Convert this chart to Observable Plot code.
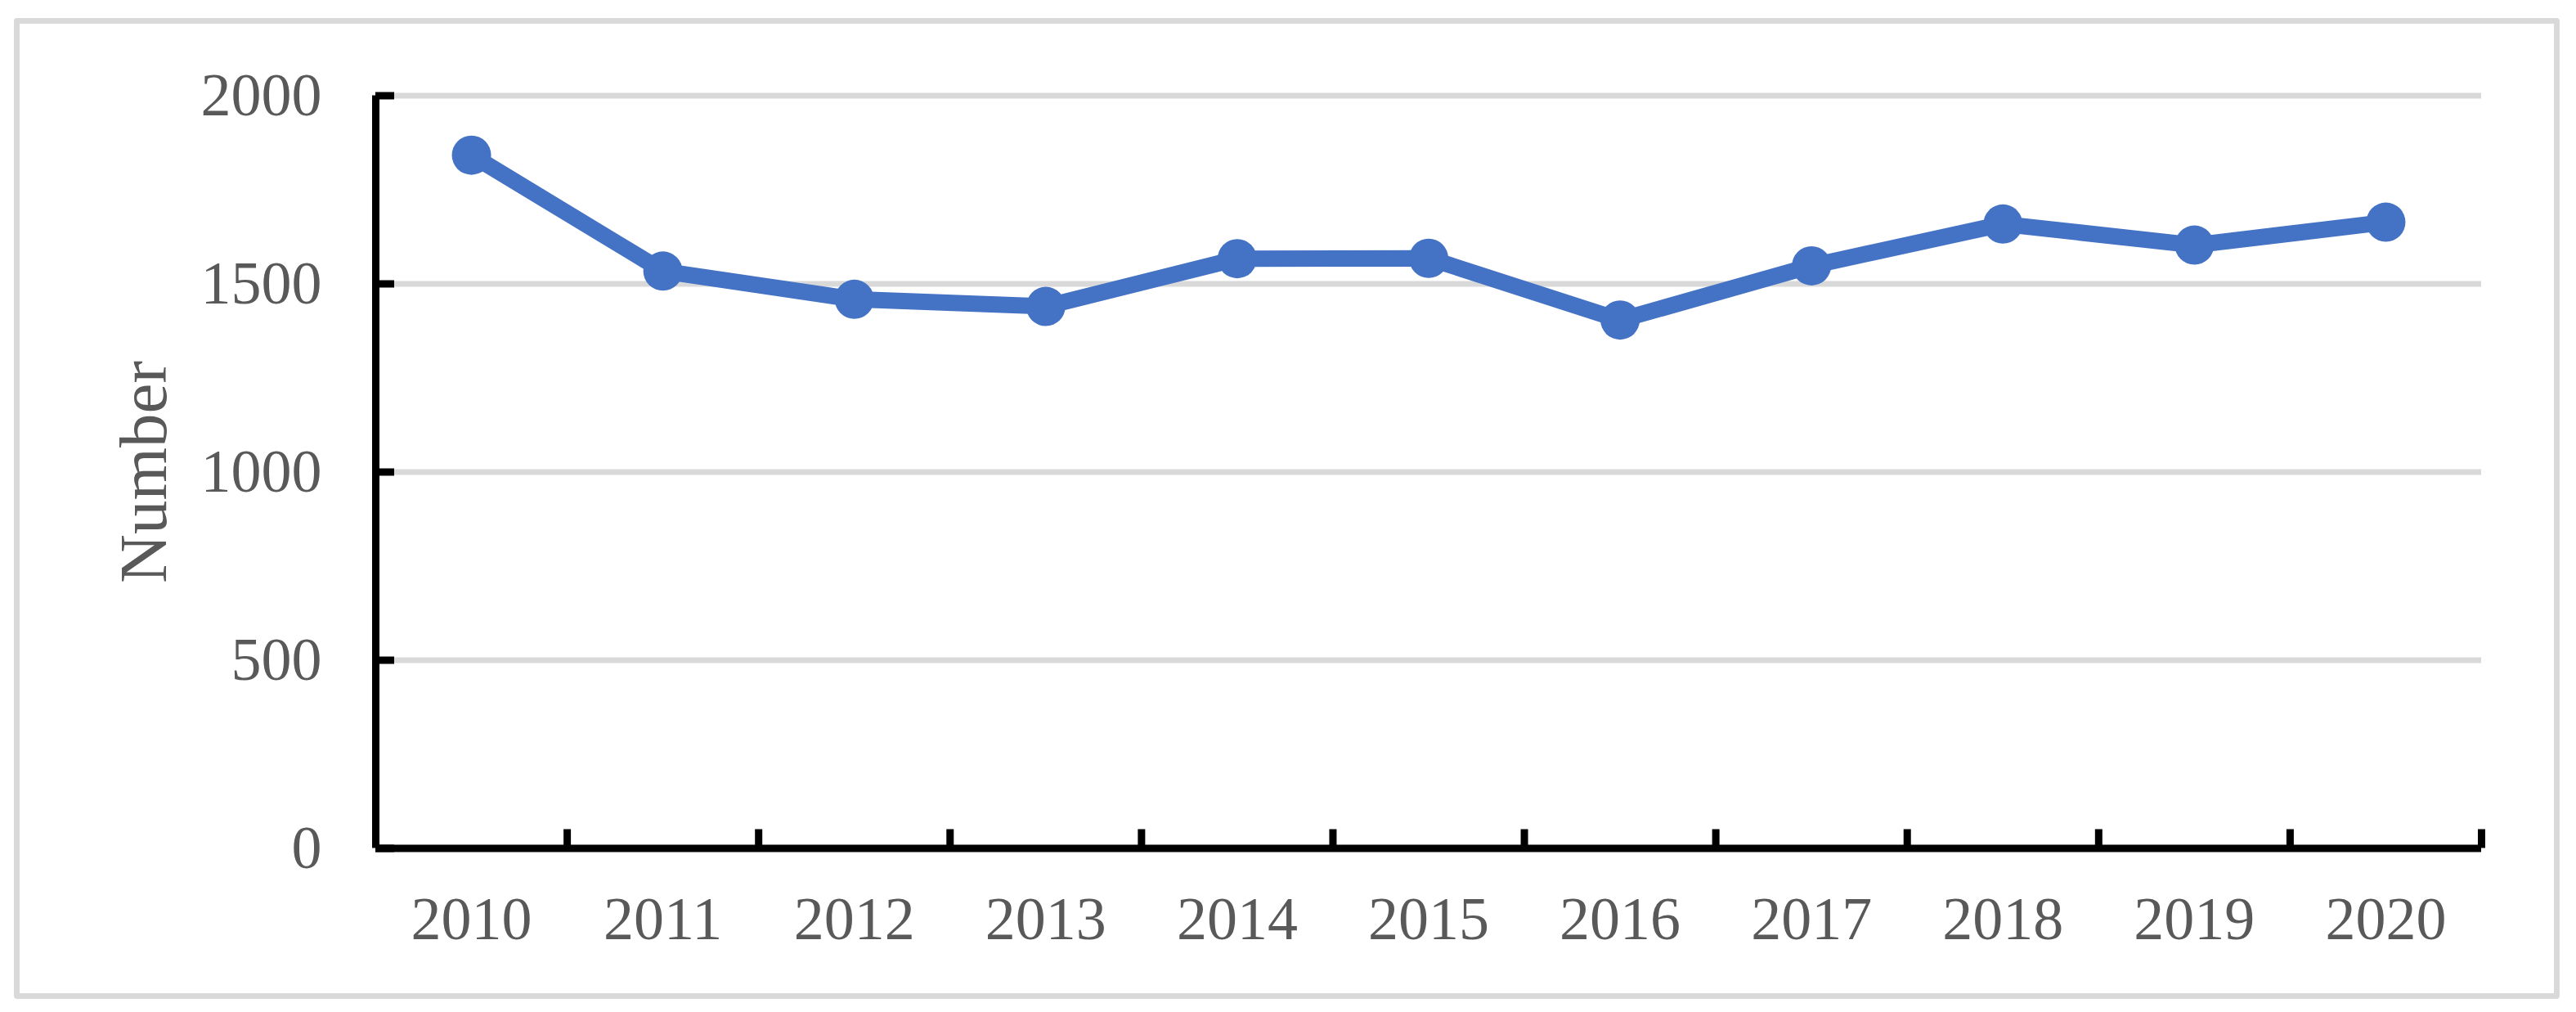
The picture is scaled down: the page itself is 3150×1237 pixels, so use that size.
<!DOCTYPE html>
<html>
<head>
<meta charset="utf-8">
<script src="https://cdn.jsdelivr.net/npm/d3@7"></script>
<script src="https://cdn.jsdelivr.net/npm/@observablehq/plot@0.6"></script>
<style>
html, body { margin: 0; padding: 0; background: #fff; overflow: hidden; }
#wrap { position: relative; width: 3150px; height: 1237px; }
#border { position: absolute; left: 17px; top: 22px; width: 3113px; height: 1199px; box-sizing: border-box; border: 7px solid #d9d9d9; border-radius: 4px; pointer-events: none; z-index: 2; }
</style>
</head>
<body>
<div id="wrap"><div id="border"></div></div>
<script>
const years = [2010, 2011, 2012, 2013, 2014, 2015, 2016, 2017, 2018, 2019, 2020];
const counts = [1842, 1534, 1459, 1440, 1567, 1568, 1404, 1548, 1659, 1603, 1664];
const yTicks = [0, 500, 1000, 1500, 2000];
const yLabel = "Number";

const data = years.map((year, i) => ({year, count: counts[i]}));
const first = years[0] - 0.5;
const last = years[years.length - 1] + 0.5;
const boundaries = years.map(y => y + 0.5);

const chart = Plot.plot({
  width: 3150,
  height: 1237,
  marginLeft: 459,
  marginRight: 116,
  marginTop: 116.5,
  marginBottom: 200.5,
  style: {fontFamily: "'Liberation Serif', 'Times New Roman', serif", color: "#595959", background: "transparent"},
  x: {type: "linear", domain: [first, last]},
  y: {type: "linear", domain: [0, 2000]},
  marks: [
    Plot.ruleY(yTicks.filter(d => d > 0), {y: d => d, x1: () => first, x2: () => last, stroke: "#d9d9d9", strokeWidth: 7}),
    Plot.axisY(yTicks, {tickSize: 0, tickPadding: 66, fontSize: 74, tickFormat: d => String(d), label: null}),
    Plot.axisX(years, {tickSize: 0, tickPadding: 58, fontSize: 74, tickFormat: d => String(d), label: null}),
    Plot.ruleX([first], {x: d => d, y1: () => 0, y2: () => 2000, stroke: "#000", strokeWidth: 9}),
    Plot.ruleY([0], {y: d => d, x1: () => first, x2: () => last, stroke: "#000", strokeWidth: 9}),
    Plot.ruleY(yTicks, {y: d => d, x1: () => first, x2: () => first, insetLeft: 23, stroke: "#000", strokeWidth: 9}),
    Plot.ruleX(boundaries, {x: d => d, y1: () => 0, y2: () => 0, insetBottom: 23, stroke: "#000", strokeWidth: 9}),
    Plot.line(data, {x: "year", y: "count", stroke: "#4472C4", strokeWidth: 20, strokeLinejoin: "round"}),
    Plot.dot(data, {x: "year", y: "count", r: 24, fill: "#4472C4", stroke: null}),
    Plot.text([yLabel], {text: d => d, frameAnchor: "left", rotate: -90, dx: -283, textAnchor: "middle", lineAnchor: "middle", fontSize: 83, fill: "#595959"})
  ]
});
document.getElementById("wrap").appendChild(chart);
</script>
</body>
</html>
